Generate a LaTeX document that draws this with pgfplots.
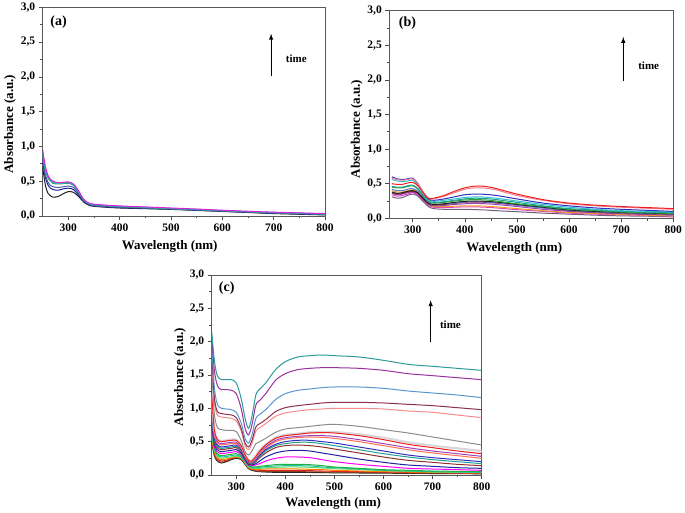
\documentclass[border=0pt]{standalone}
\usepackage{fontspec}
\setmainfont{Liberation Serif}
\usepackage{pgfplots}
\pgfplotsset{compat=1.18}
\definecolor{cTeal}{HTML}{2E9A9A}
\definecolor{cPurple}{HTML}{9B30A0}
\definecolor{cSteel}{HTML}{5B95D0}
\definecolor{cMaroon}{HTML}{8B3050}
\definecolor{cSalmon}{HTML}{F58A8A}
\definecolor{cGray}{HTML}{8C8C8C}
\definecolor{cLGray}{HTML}{D8D8D8}
\definecolor{cRed}{HTML}{F02020}
\definecolor{cViolet}{HTML}{A040C0}
\definecolor{cOrSal}{HTML}{FF7050}
\definecolor{cBlue}{HTML}{3030C0}
\definecolor{cTeal2}{HTML}{20A090}
\definecolor{cMaroon2}{HTML}{903030}
\definecolor{cNavy}{HTML}{2020A0}
\definecolor{cMag}{HTML}{FF00FF}
\definecolor{cGreen}{HTML}{20B040}
\definecolor{cCyanG}{HTML}{20C0A0}
\definecolor{cLGreen}{HTML}{60E060}
\definecolor{cOrange}{HTML}{FF8000}
\definecolor{cRed2}{HTML}{E02020}
\definecolor{cBrown}{HTML}{804020}
\definecolor{cBlack}{HTML}{202020}
\definecolor{cPink}{HTML}{F08090}
\definecolor{cCyan}{HTML}{30C0D0}
\definecolor{cGreenB}{HTML}{30A030}
\definecolor{cGoldB}{HTML}{F0A020}
\definecolor{cMagB}{HTML}{E040C0}
\definecolor{cGrayP}{HTML}{706080}
\definecolor{cLBlue}{HTML}{6080E0}
\definecolor{cBlueGray}{HTML}{4060A0}
\definecolor{cGreenA}{HTML}{30A060}
\definecolor{cCyanA}{HTML}{20B0C0}
\definecolor{cMagA}{HTML}{E020E0}
\begin{document}
\begin{tikzpicture}
\useasboundingbox (0pt,0pt) rectangle (685pt,513pt);
\pgfplotsset{
 panel/.style={
  scale only axis, xmax=800, ymin=0, ymax=3,
  xtick={300,400,...,800}, minor x tick num=1,
  ytick={0,0.5,1,1.5,2,2.5,3}, minor y tick num=1,
  tick align=outside, tick pos=left,
  major tick length=4pt, minor tick length=2.5pt,
  axis line style={draw=black!65, line width=0.9pt},
  every tick/.style={black!70, line width=0.7pt},
  ticklabel style={font=\bfseries\fontsize{11.5}{12}\selectfont},
  /pgf/number format/assume math mode=true,
  yticklabel style={/pgf/number format/.cd, fixed, fixed zerofill, precision=1, use comma},
  xticklabel style={/pgf/number format/.cd, set thousands separator={}},
  label style={font=\bfseries\fontsize{13}{14}\selectfont},
  xlabel={Wavelength (nm)}, ylabel={Absorbance (a.u.)},
  every axis plot/.append style={line width=1pt, smooth, no markers},
  clip=true,
 }
}
% ---------------- (a) ----------------
\begin{axis}[panel, at={(42.7pt,297pt)}, anchor=south west, width=282.3pt, height=208.7pt, xmin=250,
  xlabel style={at={(axis description cs:0.45,0)}, anchor=center, yshift=-30.7pt},
  ylabel style={at={(axis description cs:0,0.44)}, anchor=center, yshift=32.7pt}]
\addplot[cBlack] coordinates {(250,0.70)(255,0.45)(260,0.33)(265,0.29)(270,0.27)(280,0.28)(290,0.32)(300,0.35)(310,0.34)(320,0.28)(330,0.20)(340,0.155)(350,0.14)(375,0.125)(400,0.115)(450,0.105)(500,0.095)(550,0.08)(600,0.065)(650,0.05)(700,0.035)(750,0.025)(800,0.015)};
\addplot[cNavy] coordinates {(250,0.78)(255,0.56)(260,0.45)(265,0.40)(270,0.38)(280,0.37)(290,0.39)(300,0.40)(310,0.38)(320,0.30)(330,0.21)(340,0.16)(350,0.145)(375,0.13)(400,0.12)(450,0.11)(500,0.10)(550,0.085)(600,0.07)(650,0.055)(700,0.04)(750,0.03)(800,0.02)};
\addplot[cBlueGray] coordinates {(250,0.82)(255,0.60)(260,0.49)(265,0.44)(270,0.42)(280,0.41)(290,0.42)(300,0.43)(310,0.41)(320,0.32)(330,0.22)(340,0.17)(350,0.15)(375,0.135)(400,0.125)(450,0.113)(500,0.10)(550,0.087)(600,0.072)(650,0.057)(700,0.043)(750,0.033)(800,0.023)};
\addplot[cGreenA] coordinates {(250,0.88)(255,0.66)(260,0.55)(265,0.50)(270,0.47)(280,0.46)(290,0.465)(300,0.47)(310,0.44)(320,0.34)(330,0.23)(340,0.175)(350,0.16)(375,0.145)(400,0.135)(450,0.12)(500,0.105)(550,0.09)(600,0.075)(650,0.06)(700,0.048)(750,0.038)(800,0.028)};
\addplot[cCyanA] coordinates {(250,0.91)(255,0.69)(260,0.57)(265,0.515)(270,0.485)(280,0.47)(290,0.475)(300,0.48)(310,0.45)(320,0.35)(330,0.235)(340,0.18)(350,0.165)(375,0.15)(400,0.14)(450,0.125)(500,0.11)(550,0.095)(600,0.079)(650,0.064)(700,0.051)(750,0.041)(800,0.031)};
\addplot[cMagA] coordinates {(250,0.95)(255,0.72)(260,0.59)(265,0.53)(270,0.50)(280,0.48)(290,0.485)(300,0.49)(310,0.46)(320,0.36)(330,0.24)(340,0.185)(350,0.17)(375,0.155)(400,0.145)(450,0.13)(500,0.115)(550,0.10)(600,0.083)(650,0.068)(700,0.055)(750,0.045)(800,0.035)};
\node[font=\bfseries\fontsize{14}{14}\selectfont] at (axis cs:281,2.78) {(a)};
\draw[-latex, line width=1pt] (axis cs:695,2.01) -- (axis cs:695,2.62);
\node[font=\bfseries\fontsize{11}{11}\selectfont, anchor=west] at (axis cs:717,2.26) {time};
\end{axis}
% ---------------- (b) ----------------
\begin{axis}[panel, at={(389.3pt,294.7pt)}, anchor=south west, width=284pt, height=207.6pt, xmin=255,
  xlabel style={at={(axis description cs:0.44,0)}, anchor=center, yshift=-30pt},
  ylabel style={at={(axis description cs:0,0.43)}, anchor=center, yshift=32.6pt}]
\addplot[cGrayP] coordinates {(260,0.31)(270,0.29)(280,0.30)(290,0.33)(300,0.35)(310,0.32)(320,0.24)(330,0.17)(340,0.14)(360,0.13)(380,0.13)(400,0.13)(420,0.125)(440,0.12)(460,0.11)(500,0.095)(550,0.075)(600,0.06)(650,0.045)(700,0.035)(750,0.03)(800,0.02)};
\addplot[cMagB] coordinates {(260,0.34)(270,0.32)(280,0.33)(290,0.35)(300,0.37)(310,0.34)(320,0.26)(330,0.19)(340,0.16)(360,0.155)(380,0.16)(400,0.165)(420,0.165)(440,0.16)(460,0.15)(500,0.125)(550,0.10)(600,0.075)(650,0.06)(700,0.05)(750,0.04)(800,0.03)};
\addplot[cGoldB] coordinates {(260,0.40)(270,0.38)(280,0.38)(290,0.40)(300,0.41)(310,0.37)(320,0.28)(330,0.20)(340,0.17)(360,0.17)(380,0.175)(400,0.18)(420,0.18)(440,0.175)(460,0.165)(500,0.14)(550,0.11)(600,0.085)(650,0.07)(700,0.055)(750,0.045)(800,0.035)};
\addplot[cViolet] coordinates {(260,0.36)(270,0.34)(280,0.35)(290,0.37)(300,0.38)(310,0.35)(320,0.27)(330,0.20)(340,0.18)(360,0.185)(380,0.20)(400,0.21)(420,0.215)(440,0.21)(460,0.20)(500,0.17)(550,0.13)(600,0.10)(650,0.08)(700,0.065)(750,0.055)(800,0.045)};
\addplot[cMaroon2] coordinates {(260,0.37)(270,0.35)(280,0.36)(290,0.38)(300,0.39)(310,0.36)(320,0.28)(330,0.21)(340,0.19)(360,0.20)(380,0.215)(400,0.23)(420,0.235)(440,0.23)(460,0.22)(500,0.19)(550,0.15)(600,0.11)(650,0.09)(700,0.075)(750,0.065)(800,0.055)};
\addplot[cLBlue] coordinates {(260,0.42)(270,0.40)(280,0.40)(290,0.42)(300,0.43)(310,0.39)(320,0.30)(330,0.22)(340,0.20)(360,0.21)(380,0.22)(400,0.235)(420,0.24)(440,0.235)(460,0.225)(500,0.19)(550,0.15)(600,0.115)(650,0.095)(700,0.08)(750,0.07)(800,0.06)};
\addplot[cBlack] coordinates {(260,0.38)(270,0.36)(280,0.37)(290,0.39)(300,0.40)(310,0.37)(320,0.29)(330,0.22)(340,0.20)(360,0.21)(380,0.23)(400,0.245)(420,0.25)(440,0.245)(460,0.235)(500,0.20)(550,0.16)(600,0.12)(650,0.10)(700,0.085)(750,0.075)(800,0.065)};
\addplot[cGreenB] coordinates {(260,0.45)(270,0.44)(280,0.44)(290,0.46)(300,0.47)(310,0.42)(320,0.32)(330,0.24)(340,0.22)(360,0.23)(380,0.25)(400,0.265)(420,0.27)(440,0.265)(460,0.25)(500,0.21)(550,0.17)(600,0.13)(650,0.11)(700,0.09)(750,0.08)(800,0.07)};
\addplot[cTeal2] coordinates {(260,0.46)(270,0.45)(280,0.45)(290,0.47)(300,0.48)(310,0.43)(320,0.33)(330,0.25)(340,0.23)(360,0.24)(380,0.26)(400,0.28)(420,0.29)(440,0.285)(460,0.27)(500,0.23)(550,0.18)(600,0.14)(650,0.12)(700,0.10)(750,0.09)(800,0.08)};
\addplot[cCyan] coordinates {(260,0.56)(270,0.54)(280,0.53)(290,0.54)(300,0.55)(310,0.48)(320,0.36)(330,0.27)(340,0.245)(360,0.26)(380,0.28)(400,0.30)(420,0.31)(440,0.305)(460,0.29)(500,0.25)(550,0.20)(600,0.16)(650,0.13)(700,0.11)(750,0.10)(800,0.09)};
\addplot[cBlue] coordinates {(260,0.60)(270,0.57)(280,0.56)(290,0.57)(300,0.58)(310,0.50)(320,0.37)(330,0.28)(340,0.26)(360,0.28)(380,0.31)(400,0.34)(420,0.35)(440,0.345)(460,0.33)(500,0.28)(550,0.22)(600,0.18)(650,0.15)(700,0.13)(750,0.115)(800,0.10)};
\addplot[cPink] coordinates {(260,0.58)(270,0.56)(280,0.55)(290,0.56)(300,0.57)(310,0.50)(320,0.38)(330,0.29)(340,0.28)(360,0.32)(380,0.37)(400,0.42)(420,0.44)(440,0.435)(460,0.41)(500,0.33)(550,0.26)(600,0.21)(650,0.18)(700,0.16)(750,0.145)(800,0.13)};
\addplot[cRed] coordinates {(260,0.50)(270,0.49)(280,0.49)(290,0.51)(300,0.52)(310,0.47)(320,0.37)(330,0.29)(340,0.29)(360,0.33)(380,0.39)(400,0.44)(420,0.465)(440,0.46)(460,0.43)(500,0.35)(550,0.27)(600,0.22)(650,0.19)(700,0.17)(750,0.155)(800,0.14)};
\node[font=\bfseries\fontsize{14}{14}\selectfont] at (axis cs:290,2.82) {(b)};
\draw[-latex, line width=1pt] (axis cs:704,1.99) -- (axis cs:704,2.62);
\node[font=\bfseries\fontsize{11}{11}\selectfont, anchor=west] at (axis cs:726,2.205) {time};
\end{axis}
% ---------------- (c) ----------------
\begin{axis}[panel, at={(211.7pt,38pt)}, anchor=south west, width=270pt, height=200pt, xmin=250,
  xlabel style={at={(axis description cs:0.45,0)}, anchor=center, yshift=-28.3pt},
  ylabel style={at={(axis description cs:0,0.49)}, anchor=center, yshift=31.7pt}]
\addplot[cBlack] coordinates {(250,0.50)(255,0.30)(260,0.22)(265,0.19)(270,0.18)(280,0.20)(290,0.23)(300,0.25)(310,0.23)(318,0.16)(325,0.095)(332,0.07)(340,0.055)(348,0.05)(360,0.045)(380,0.04)(400,0.04)(425,0.04)(450,0.038)(475,0.035)(500,0.033)(550,0.03)(600,0.027)(650,0.025)(700,0.022)(750,0.02)(800,0.018)};
\addplot[cBrown] coordinates {(250,0.52)(255,0.32)(260,0.23)(265,0.20)(270,0.19)(280,0.21)(290,0.24)(300,0.26)(310,0.24)(318,0.17)(325,0.10)(332,0.075)(340,0.06)(348,0.055)(360,0.05)(380,0.05)(400,0.05)(425,0.05)(450,0.048)(475,0.045)(500,0.042)(550,0.04)(600,0.035)(650,0.03)(700,0.028)(750,0.025)(800,0.02)};
\addplot[cRed2] coordinates {(250,0.55)(255,0.34)(260,0.25)(265,0.22)(270,0.21)(280,0.22)(290,0.25)(300,0.27)(310,0.25)(318,0.18)(325,0.11)(332,0.085)(340,0.075)(348,0.07)(360,0.07)(380,0.07)(400,0.07)(425,0.068)(450,0.065)(475,0.06)(500,0.055)(550,0.05)(600,0.045)(650,0.04)(700,0.035)(750,0.03)(800,0.03)};
\addplot[cOrange] coordinates {(250,0.58)(255,0.36)(260,0.27)(265,0.24)(270,0.23)(280,0.24)(290,0.26)(300,0.27)(310,0.25)(318,0.18)(325,0.11)(332,0.09)(340,0.085)(348,0.085)(360,0.09)(380,0.09)(400,0.09)(425,0.09)(450,0.085)(475,0.08)(500,0.07)(550,0.06)(600,0.05)(650,0.045)(700,0.04)(750,0.035)(800,0.03)};
\addplot[cLGreen] coordinates {(250,0.62)(255,0.38)(260,0.29)(265,0.26)(270,0.25)(280,0.26)(290,0.27)(300,0.28)(310,0.26)(318,0.19)(325,0.12)(332,0.10)(340,0.10)(348,0.10)(360,0.11)(380,0.115)(400,0.12)(425,0.12)(450,0.115)(475,0.105)(500,0.095)(550,0.08)(600,0.065)(650,0.055)(700,0.045)(750,0.04)(800,0.035)};
\addplot[cCyanG] coordinates {(250,0.66)(255,0.40)(260,0.31)(265,0.28)(270,0.27)(280,0.28)(290,0.29)(300,0.30)(310,0.27)(318,0.20)(325,0.13)(332,0.11)(340,0.11)(348,0.115)(360,0.125)(380,0.135)(400,0.14)(425,0.14)(450,0.135)(475,0.12)(500,0.11)(550,0.09)(600,0.07)(650,0.06)(700,0.05)(750,0.045)(800,0.04)};
\addplot[cGreen] coordinates {(250,0.70)(255,0.42)(260,0.33)(265,0.30)(270,0.29)(280,0.30)(290,0.31)(300,0.32)(310,0.29)(318,0.21)(325,0.14)(332,0.12)(340,0.12)(348,0.13)(360,0.14)(380,0.155)(400,0.16)(425,0.16)(450,0.155)(475,0.14)(500,0.12)(550,0.10)(600,0.08)(650,0.07)(700,0.06)(750,0.055)(800,0.05)};
\addplot[cMag] coordinates {(250,0.75)(255,0.45)(260,0.36)(265,0.33)(270,0.32)(280,0.33)(290,0.34)(300,0.35)(310,0.31)(318,0.22)(325,0.15)(332,0.14)(340,0.15)(348,0.17)(360,0.21)(380,0.25)(400,0.27)(425,0.27)(450,0.26)(475,0.23)(500,0.20)(550,0.16)(600,0.13)(650,0.10)(700,0.09)(750,0.08)(800,0.07)};
\addplot[cNavy] coordinates {(250,0.80)(255,0.48)(260,0.39)(265,0.36)(270,0.35)(280,0.36)(290,0.37)(300,0.38)(310,0.33)(318,0.23)(325,0.16)(332,0.15)(340,0.17)(348,0.21)(360,0.27)(380,0.33)(400,0.36)(425,0.37)(450,0.36)(475,0.33)(500,0.30)(550,0.24)(600,0.19)(650,0.15)(700,0.13)(750,0.11)(800,0.10)};
\addplot[cMaroon2] coordinates {(250,0.85)(255,0.52)(260,0.42)(265,0.39)(270,0.38)(280,0.39)(290,0.40)(300,0.41)(310,0.35)(318,0.25)(325,0.17)(332,0.16)(340,0.20)(348,0.26)(360,0.33)(380,0.41)(400,0.44)(425,0.45)(450,0.44)(475,0.42)(500,0.39)(550,0.33)(600,0.27)(650,0.22)(700,0.19)(750,0.16)(800,0.14)};
\addplot[cTeal2] coordinates {(250,0.90)(255,0.55)(260,0.44)(265,0.41)(270,0.40)(280,0.41)(290,0.42)(300,0.43)(310,0.37)(318,0.26)(325,0.18)(332,0.17)(340,0.22)(348,0.28)(360,0.36)(380,0.44)(400,0.47)(425,0.49)(450,0.49)(475,0.47)(500,0.44)(550,0.38)(600,0.32)(650,0.27)(700,0.23)(750,0.20)(800,0.17)};
\addplot[cBlue] coordinates {(250,0.95)(255,0.58)(260,0.46)(265,0.43)(270,0.42)(280,0.43)(290,0.44)(300,0.45)(310,0.38)(318,0.27)(325,0.19)(332,0.18)(340,0.23)(348,0.30)(360,0.38)(380,0.46)(400,0.50)(425,0.52)(450,0.52)(475,0.50)(500,0.48)(550,0.42)(600,0.36)(650,0.30)(700,0.26)(750,0.23)(800,0.20)};
\addplot[cOrSal] coordinates {(250,1.00)(255,0.62)(260,0.49)(265,0.46)(270,0.45)(280,0.46)(290,0.47)(300,0.47)(310,0.40)(318,0.28)(325,0.20)(332,0.19)(340,0.25)(348,0.32)(360,0.40)(380,0.50)(400,0.54)(425,0.56)(450,0.57)(475,0.565)(500,0.55)(550,0.50)(600,0.44)(650,0.38)(700,0.33)(750,0.29)(800,0.25)};
\addplot[cViolet] coordinates {(250,1.10)(255,0.65)(260,0.52)(265,0.48)(270,0.47)(280,0.48)(290,0.49)(300,0.49)(310,0.42)(318,0.29)(325,0.21)(332,0.20)(340,0.26)(348,0.34)(360,0.42)(380,0.52)(400,0.56)(425,0.58)(450,0.59)(475,0.59)(500,0.58)(550,0.53)(600,0.47)(650,0.41)(700,0.36)(750,0.32)(800,0.28)};
\addplot[cLGray, line width=2.2pt] coordinates {(250,1.20)(255,0.71)(260,0.56)(265,0.52)(270,0.51)(280,0.52)(290,0.53)(300,0.53)(310,0.45)(318,0.31)(325,0.23)(332,0.22)(340,0.29)(348,0.37)(360,0.46)(380,0.56)(400,0.60)(425,0.62)(450,0.64)(475,0.645)(500,0.645)(550,0.61)(600,0.56)(650,0.49)(700,0.44)(750,0.40)(800,0.36)};
\addplot[cRed] coordinates {(250,1.20)(255,0.70)(260,0.55)(265,0.51)(270,0.50)(280,0.51)(290,0.52)(300,0.52)(310,0.44)(318,0.30)(325,0.22)(332,0.21)(340,0.28)(348,0.36)(360,0.45)(380,0.55)(400,0.59)(425,0.61)(450,0.63)(475,0.635)(500,0.63)(550,0.59)(600,0.53)(650,0.46)(700,0.41)(750,0.36)(800,0.32)};
\addplot[cGray] coordinates {(250,1.60)(255,0.95)(260,0.74)(265,0.69)(270,0.68)(280,0.67)(290,0.67)(300,0.65)(310,0.52)(318,0.35)(325,0.30)(332,0.36)(340,0.47)(348,0.50)(360,0.55)(380,0.64)(400,0.69)(425,0.71)(450,0.73)(475,0.75)(500,0.76)(550,0.73)(600,0.68)(650,0.63)(700,0.57)(750,0.51)(800,0.45)};
\addplot[cSalmon] coordinates {(250,1.85)(255,1.15)(260,0.92)(265,0.88)(270,0.87)(280,0.86)(290,0.85)(300,0.81)(310,0.66)(318,0.44)(325,0.38)(332,0.47)(340,0.66)(348,0.71)(360,0.77)(380,0.88)(400,0.93)(425,0.96)(450,0.98)(475,0.99)(500,1.00)(550,1.00)(600,0.99)(650,0.96)(700,0.94)(750,0.90)(800,0.86)};
\addplot[cMaroon] coordinates {(250,1.90)(255,1.20)(260,0.98)(265,0.93)(270,0.92)(280,0.91)(290,0.90)(300,0.86)(310,0.70)(318,0.48)(325,0.42)(332,0.52)(340,0.72)(348,0.77)(360,0.83)(380,0.95)(400,1.01)(425,1.04)(450,1.06)(475,1.08)(500,1.09)(550,1.09)(600,1.08)(650,1.06)(700,1.04)(750,1.01)(800,0.98)};
\addplot[cSteel] coordinates {(250,2.00)(255,1.35)(260,1.10)(265,1.02)(270,1.00)(280,0.99)(290,0.98)(300,0.94)(310,0.78)(318,0.55)(325,0.48)(332,0.60)(340,0.85)(348,0.91)(360,0.98)(380,1.13)(400,1.22)(425,1.27)(450,1.29)(475,1.31)(500,1.32)(550,1.32)(600,1.30)(650,1.26)(700,1.23)(750,1.20)(800,1.16)};
\addplot[cPurple] coordinates {(250,2.10)(255,1.60)(260,1.38)(265,1.30)(270,1.28)(280,1.28)(290,1.27)(300,1.22)(310,1.00)(318,0.70)(325,0.60)(332,0.75)(340,1.05)(348,1.12)(360,1.22)(380,1.42)(400,1.52)(425,1.58)(450,1.60)(475,1.61)(500,1.61)(550,1.60)(600,1.57)(650,1.52)(700,1.49)(750,1.46)(800,1.43)};
\addplot[cTeal] coordinates {(250,2.15)(255,1.75)(260,1.52)(265,1.45)(270,1.43)(280,1.43)(290,1.43)(300,1.38)(310,1.15)(318,0.85)(325,0.70)(332,0.88)(340,1.20)(348,1.29)(360,1.38)(380,1.58)(400,1.70)(425,1.77)(450,1.79)(475,1.80)(500,1.79)(550,1.77)(600,1.72)(650,1.66)(700,1.63)(750,1.60)(800,1.57)};
\node[font=\bfseries\fontsize{14}{14}\selectfont] at (axis cs:280.5,2.80) {(c)};
\draw[-latex, line width=1pt] (axis cs:696,1.99) -- (axis cs:696,2.62);
\node[font=\bfseries\fontsize{11}{11}\selectfont, anchor=west] at (axis cs:708,2.26) {time};
\end{axis}
\end{tikzpicture}
\end{document}
